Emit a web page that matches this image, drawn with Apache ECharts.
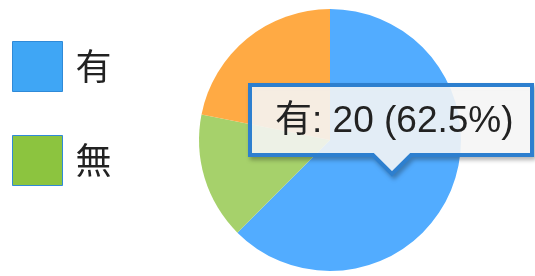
<!DOCTYPE html>
<html>
<head>
<meta charset="utf-8">
<script src="https://cdn.jsdelivr.net/npm/echarts@6/dist/echarts.min.js"></script>
<style>
  html, body { margin: 0; padding: 0; background: #fff; }
  #chart { width: 535px; height: 276px; }
</style>
</head>
<body>
<div id="chart"></div>
<script>
// 数据
const names = ['有', '無', 'その他']
const values = [20, 5, 7]
const colors = ['#52acff', '#a6d16b', '#ffaa44']
const legendNames = ['有', '無']
const legendColors = ['#3fa6f5', '#8cc43f']

const chart = echarts.init(document.getElementById('chart'))

const total = values.reduce((a, b) => a + b, 0)

// 提示框外形（带箭头）
const tipShape =
  '<svg width="292" height="100" style="position:absolute;left:0;top:0;' +
  'filter:drop-shadow(2px 3px 2px rgba(0,0,0,0.3));overflow:visible">' +
  '<path d="M2,2 H284 V72 H163 L144,91 L125,72 H2 Z" ' +
  'fill="rgba(255,255,255,0.86)" stroke="#2d7fcf" stroke-width="4" stroke-linejoin="miter"/></svg>'

const option = {
  animation: false,
  legend: {
    orient: 'vertical',
    left: 12,
    top: 41,
    padding: 0,
    icon: 'rect',
    itemWidth: 50,
    itemHeight: 50,
    itemGap: 43,
    data: legendNames.map((n, i) => ({
      name: n,
      itemStyle: { color: legendColors[i], borderColor: '#2f8ad8', borderWidth: 1 }
    })),
    textStyle: {
      fontSize: 36,
      color: '#222',
      padding: [0, 0, 0, 8],
      fontFamily: '"Noto Sans CJK JP", sans-serif'
    }
  },
  tooltip: {
    trigger: 'item',
    alwaysShowContent: true,
    transitionDuration: 0,
    padding: 0,
    borderWidth: 0,
    backgroundColor: 'transparent',
    extraCssText: 'box-shadow:none;',
    position: () => [248, 83],
    formatter: (p) => {
      const pct = (p.value / total * 100).toFixed(1)
      return '<div style="position:relative;width:292px;height:100px;">' + tipShape +
        '<div style="position:absolute;left:27px;top:4px;' +
        'font:37px \'Liberation Sans\',\'Noto Sans CJK JP\',sans-serif;color:#222;' +
        'line-height:66px;white-space:nowrap;">' +
        p.name + ': ' + p.value + ' (' + pct + '%)</div></div>'
    }
  },
  series: [
    {
      name: '有無',
      type: 'pie',
      center: [330, 140],
      radius: 131,
      startAngle: 90,
      label: { show: false },
      labelLine: { show: false },
      emphasis: { scale: false },
      itemStyle: { borderWidth: 0 },
      data: names.map((n, i) => ({ name: n, value: values[i], itemStyle: { color: colors[i] } }))
    }
  ]
}

chart.setOption(option)
chart.dispatchAction({ type: 'showTip', seriesIndex: 0, dataIndex: 0 })
</script>
</body>
</html>
